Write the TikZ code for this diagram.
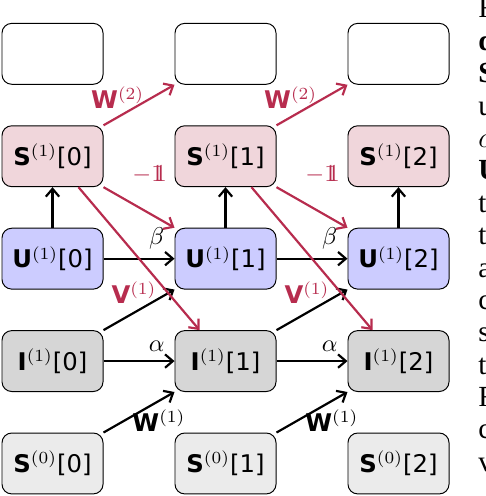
\documentclass[tikz,border=0pt]{standalone}
\usepackage[no-math]{fontspec}
\usepackage{amsmath, amssymb}
\usetikzlibrary{arrows.meta}
\setmainfont{DejaVu Sans}
\newfontfamily\paperfont{Liberation Serif}
\newcommand{\onevec}{\mathrm{1}\mkern-6.5mu\mathrm{1}}

\definecolor{spkred}{RGB}{183,44,78}
\definecolor{spkfill}{RGB}{240,214,219}
\definecolor{memfill}{RGB}{204,204,255}
\definecolor{curfill}{RGB}{214,214,214}
\definecolor{infill}{RGB}{235,235,235}

\tikzset{
    cell/.style={draw, rounded corners=4pt, minimum width=1.46cm, minimum height=0.88cm, inner sep=0pt},
    arr/.style={-{Straight Barb[length=3.2pt, width=5.5pt]}, line width=0.9pt},
    redarr/.style={arr, spkred},
    papertxt/.style={anchor=base west, inner sep=0pt, font=\paperfont\fontsize{12}{14}\selectfont}
}

\begin{document}
\begin{tikzpicture}
    \useasboundingbox (-0.759,-0.470) rectangle (6.264,6.698);

    % Draw nodes
    \node[cell] (out0) at (0,5.92) {};
    \node[cell] (out1) at (2.5,5.92) {};
    \node[cell] (out2) at (5,5.92) {};

    \node[cell, fill=spkfill] (spk0) at (0,4.44) {\textbf{S}$^{(1)}$[0]};
    \node[cell, fill=spkfill] (spk1) at (2.5,4.44) {\textbf{S}$^{(1)}$[1]};
    \node[cell, fill=spkfill] (spk2) at (5,4.44) {\textbf{S}$^{(1)}$[2]};

    \node[cell, fill=memfill] (mem0) at (0,2.96) {\textbf{U}$^{(1)}$[0]};
    \node[cell, fill=memfill] (mem1) at (2.5,2.96) {\textbf{U}$^{(1)}$[1]};
    \node[cell, fill=memfill] (mem2) at (5,2.96) {\textbf{U}$^{(1)}$[2]};

    \node[cell, fill=curfill] (cur0) at (0,1.48) {\textbf{I}$^{(1)}$[0]};
    \node[cell, fill=curfill] (cur1) at (2.5,1.48) {\textbf{I}$^{(1)}$[1]};
    \node[cell, fill=curfill] (cur2) at (5,1.48) {\textbf{I}$^{(1)}$[2]};

    \node[cell, fill=infill] (in0) at (0,0) {\textbf{S}$^{(0)}$[0]};
    \node[cell, fill=infill] (in1) at (2.5,0) {\textbf{S}$^{(0)}$[1]};
    \node[cell, fill=infill] (in2) at (5,0) {\textbf{S}$^{(0)}$[2]};

    % Draw connections
    \draw[arr] (mem0) -- (spk0);
    \draw[arr] (mem1) -- (spk1);
    \draw[arr] (mem2) -- (spk2);

    \draw[arr] (mem0) -- (mem1) node[pos=0.75, above] {$\beta$};
    \draw[arr] (mem1) -- (mem2) node[pos=0.75, above] {$\beta$};
    \draw[arr] (cur0) -- (cur1) node[pos=0.75, above] {$\alpha$};
    \draw[arr] (cur1) -- (cur2) node[pos=0.75, above] {$\alpha$};

    \draw[arr] (in0.north east) -- (cur1.south west) node[pos=0.78, below] {\textbf{W}$^{(1)}$};
    \draw[arr] (in1.north east) -- (cur2.south west) node[pos=0.78, below] {\textbf{W}$^{(1)}$};
    \draw[arr] (cur0.north east) -- (mem1.south west) node[pos=0.43, above, spkred] {\textbf{V}$^{(1)}$};
    \draw[arr] (cur1.north east) -- (mem2.south west) node[pos=0.43, above, spkred] {\textbf{V}$^{(1)}$};

    \draw[redarr] (spk0.north east) -- (out1.south west) node[pos=0.2, above] {\textbf{W}$^{(2)}$};
    \draw[redarr] (spk1.north east) -- (out2.south west) node[pos=0.2, above] {\textbf{W}$^{(2)}$};
    \draw[redarr] (spk0.south east) -- (mem1.north west) node[pos=0.65, above=0.3cm] {$-\onevec$};
    \draw[redarr] (spk1.south east) -- (mem2.north west) node[pos=0.65, above=0.3cm] {$-\onevec$};
    \draw[redarr] (spk0.-50) -- (cur1.130);
    \draw[redarr] (spk1.-50) -- (cur2.130);

    % Text of the page beside the figure
    \foreach \ch [count=\k from 0] in {F,\textbf{d},\textbf{S},u,$\alpha$,\textbf{U},t,t,a,c,s,t,F,c,v}
        \node[papertxt] (txt\k) at (6.149,6.438-0.468*\k) {\ch};
\end{tikzpicture}
\end{document}
